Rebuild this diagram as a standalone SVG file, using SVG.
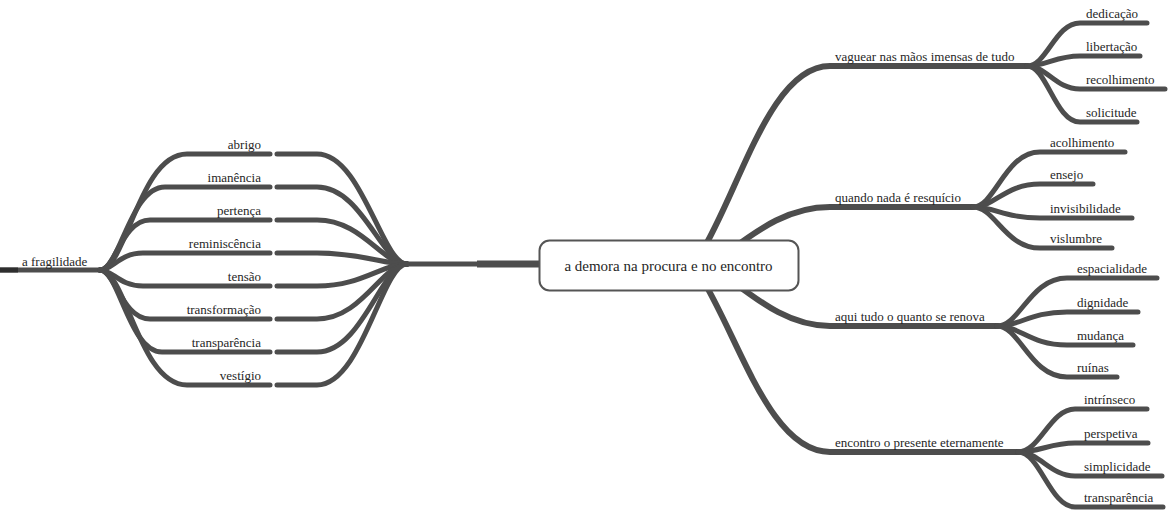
<svg xmlns="http://www.w3.org/2000/svg" width="1172" height="512" viewBox="0 0 1172 512">
<style>
.c{fill:none;stroke:#4d4d4d;stroke-linecap:round;stroke-linejoin:round}
.m{stroke-width:6}
.s{stroke-width:5}
.t{font-family:"Liberation Serif","Times New Roman",serif;font-size:13px;fill:#262626}
.e{text-anchor:end}
.ct{font-family:"Liberation Serif","Times New Roman",serif;font-size:15px;fill:#262626;text-anchor:middle}
</style>
<rect width="1172" height="512" fill="#ffffff"/>
<g id="connectors">
  <!-- left trunk -->
  <path class="c s" d="M0 270 L100 270" style="stroke-linecap:butt"/>
  <path d="M0 270 L18 270" stroke="#2e2e2e" stroke-width="5"/>
  <path class="c s" d="M407 264 L477 264" style="stroke-linecap:butt"/>
  <path d="M477 264 L545 264" stroke="#4d4d4d" stroke-width="7"/>
  <!-- left: fragilidade junction to children -->
  <path class="c s" d="M100 270 C126 270 139 154 187 154 L270 154"/>
  <path class="c s" d="M100 270 C120 270 130 187 165 187 L270 187"/>
  <path class="c s" d="M100 270 C115 270 122 220 150 220 L270 220"/>
  <path class="c s" d="M100 270 C113 270 119 253 143 253 L270 253"/>
  <path class="c s" d="M100 270 C113 270 119 286 143 286 L270 286"/>
  <path class="c s" d="M100 270 C115 270 122 319 150 319 L270 319"/>
  <path class="c s" d="M100 270 C119 270 129 352 162 352 L270 352"/>
  <path class="c s" d="M100 270 C126 270 139 385 187 385 L270 385"/>
  <!-- left: central junction to children -->
  <path class="c s" d="M407 264 C382 264 362 154 317 154 L277 154"/>
  <path class="c s" d="M407 264 C382 264 362 187 317 187 L277 187"/>
  <path class="c s" d="M407 264 C382 264 362 220 317 220 L277 220"/>
  <path class="c s" d="M407 264 C382 264 362 253 317 253 L277 253"/>
  <path class="c s" d="M407 264 C382 264 362 286 317 286 L277 286"/>
  <path class="c s" d="M407 264 C382 264 362 319 317 319 L277 319"/>
  <path class="c s" d="M407 264 C382 264 362 352 317 352 L277 352"/>
  <path class="c s" d="M407 264 C382 264 362 385 317 385 L277 385"/>
  <!-- right main branches -->
  <path class="c m" d="M700 255 C740 190 770 66 830 66 L1027 66"/>
  <path class="c m" d="M728 252 C760 228 790 207 830 207 L973 207"/>
  <path class="c m" d="M728 278 C760 302 790 326 830 326 L997 326"/>
  <path class="c m" d="M700 275 C740 340 770 452 830 452 L1018 452"/>
  <!-- vaguear children -->
  <path class="c s" d="M1027 66 C1047 66 1055 23 1080 23 L1147 23"/>
  <path class="c s" d="M1027 66 C1047 66 1055 56 1080 56 L1140 56"/>
  <path class="c s" d="M1027 66 C1047 66 1055 89 1080 89 L1165 89"/>
  <path class="c s" d="M1027 66 C1047 66 1055 122 1080 122 L1137 122"/>
  <!-- quando children -->
  <path class="c s" d="M973 207 C995 207 1005 152 1040 152 L1125 152"/>
  <path class="c s" d="M973 207 C995 207 1005 184 1040 184 L1093 184"/>
  <path class="c s" d="M973 207 C995 207 1005 218 1040 218 L1132 218"/>
  <path class="c s" d="M973 207 C995 207 1005 248 1040 248 L1112 248"/>
  <!-- aqui children -->
  <path class="c s" d="M997 326 C1020 326 1030 278 1067 278 L1157 278"/>
  <path class="c s" d="M997 326 C1020 326 1030 312 1067 312 L1138 312"/>
  <path class="c s" d="M997 326 C1020 326 1030 345 1067 345 L1133 345"/>
  <path class="c s" d="M997 326 C1020 326 1030 377 1067 377 L1117 377"/>
  <!-- encontro children -->
  <path class="c s" d="M1018 452 C1040 452 1050 409 1075 409 L1147 409"/>
  <path class="c s" d="M1018 452 C1040 452 1050 443 1075 443 L1148 443"/>
  <path class="c s" d="M1018 452 C1040 452 1050 476 1075 476 L1162 476"/>
  <path class="c s" d="M1018 452 C1040 452 1050 507 1075 507 L1163 507"/>
</g>
<g id="central">
  <rect x="539.5" y="240.5" width="259" height="50" rx="10" fill="#ffffff" stroke="#555555" stroke-width="2"/>
  <text class="ct" x="668.5" y="271">a demora na procura e no encontro</text>
</g>
<g id="n-fragilidade"><text class="t" x="22" y="266">a fragilidade</text></g>
<g id="n-abrigo"><text class="t e" x="261" y="149">abrigo</text></g>
<g id="n-imanencia"><text class="t e" x="261" y="182">imanência</text></g>
<g id="n-pertenca"><text class="t e" x="261" y="215">pertença</text></g>
<g id="n-reminiscencia"><text class="t e" x="261" y="248">reminiscência</text></g>
<g id="n-tensao"><text class="t e" x="261" y="281">tensão</text></g>
<g id="n-transformacao"><text class="t e" x="261" y="314">transformação</text></g>
<g id="n-transparencia-l"><text class="t e" x="261" y="347">transparência</text></g>
<g id="n-vestigio"><text class="t e" x="261" y="380">vestígio</text></g>
<g id="n-vaguear"><text class="t" x="835" y="61">vaguear nas mãos imensas de tudo</text></g>
<g id="n-quando"><text class="t" x="835" y="202">quando nada é resquício</text></g>
<g id="n-aqui"><text class="t" x="835" y="321">aqui tudo o quanto se renova</text></g>
<g id="n-encontro"><text class="t" x="835" y="447">encontro o presente eternamente</text></g>
<g id="n-dedicacao"><text class="t" x="1086" y="18">dedicação</text></g>
<g id="n-libertacao"><text class="t" x="1086" y="51">libertação</text></g>
<g id="n-recolhimento"><text class="t" x="1086" y="84">recolhimento</text></g>
<g id="n-solicitude"><text class="t" x="1086" y="117">solicitude</text></g>
<g id="n-acolhimento"><text class="t" x="1050" y="147">acolhimento</text></g>
<g id="n-ensejo"><text class="t" x="1050" y="179">ensejo</text></g>
<g id="n-invisibilidade"><text class="t" x="1050" y="213">invisibilidade</text></g>
<g id="n-vislumbre"><text class="t" x="1050" y="243">vislumbre</text></g>
<g id="n-espacialidade"><text class="t" x="1077" y="273">espacialidade</text></g>
<g id="n-dignidade"><text class="t" x="1077" y="307">dignidade</text></g>
<g id="n-mudanca"><text class="t" x="1077" y="340">mudança</text></g>
<g id="n-ruinas"><text class="t" x="1077" y="372">ruínas</text></g>
<g id="n-intrinseco"><text class="t" x="1084" y="404">intrínseco</text></g>
<g id="n-perspetiva"><text class="t" x="1084" y="438">perspetiva</text></g>
<g id="n-simplicidade"><text class="t" x="1084" y="471">simplicidade</text></g>
<g id="n-transparencia-r"><text class="t" x="1084" y="502">transparência</text></g>
</svg>
